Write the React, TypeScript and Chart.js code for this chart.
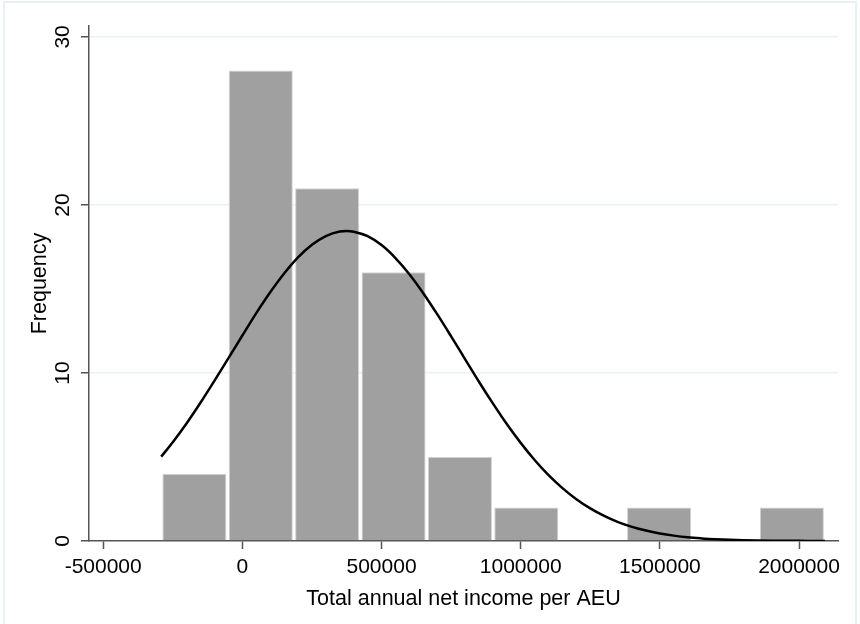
import React, { useEffect, useRef } from "react";
import { Chart, registerables } from "chart.js";

Chart.register(...registerables);

// Histogram bins (bin centres) and frequencies
const binCenters = [-172350, 66150, 304650, 543150, 781650, 1020150, 1258650, 1497150, 1735650, 1974150];
const frequencies = [4, 28, 21, 16, 5, 2, 0, 2, 0, 2];

// Normal density overlay
const curveX = [
  -291600, -250000, -200000, -150000, -100000, -50000, 0, 50000, 100000, 150000,
  200000, 250000, 300000, 350000, 374000, 400000, 450000, 500000, 550000, 600000,
  650000, 700000, 750000, 800000, 850000, 900000, 950000, 1000000, 1050000, 1100000,
  1150000, 1200000, 1250000, 1300000, 1350000, 1400000, 1450000, 1500000, 1550000, 1600000,
  1650000, 1700000, 1750000, 1800000, 1850000, 1900000, 1950000, 2000000, 2093400,
];
const curveY = [
  5.02, 5.88, 7.01, 8.24, 9.54, 10.88, 12.23, 13.56, 14.8, 15.92,
  16.88, 17.63, 18.15, 18.42, 18.45, 18.41, 18.14, 17.61, 16.84, 15.88,
  14.75, 13.5, 12.18, 10.83, 9.48, 8.19, 6.96, 5.84, 4.82, 3.92,
  3.15, 2.49, 1.94, 1.49, 1.12, 0.84, 0.62, 0.45, 0.32, 0.22,
  0.155, 0.106, 0.071, 0.047, 0.031, 0.02, 0.013, 0.008, 0.003,
];

// Tick labels
const xTicks = [-500000, 0, 500000, 1000000, 1500000, 2000000];
const yTicks = [0, 10, 20, 30];

const xTitle = "Total annual net income per AEU";
const yTitle = "Frequency";

const FONT = "'Liberation Sans', Arial, sans-serif";
const AXIS = "#555555";
const GRID = "#eaf1f3";

export default function App() {
  const ref = useRef<HTMLCanvasElement | null>(null);

  useEffect(() => {
    if (!ref.current) return;
    const chart = new Chart(ref.current, {
      type: "bar",
      data: {
        datasets: [
          {
            type: "line",
            data: curveX.map((x, i) => ({ x, y: curveY[i] })),
            borderColor: "#000000",
            borderWidth: 2.5,
            pointRadius: 0,
            cubicInterpolationMode: "monotone",
            fill: false,
            order: 0,
          } as any,
          {
            type: "bar",
            data: binCenters.map((x, i) => ({ x, y: frequencies[i] })),
            backgroundColor: "#a0a0a0",
            borderColor: "#d2d2d2",
            borderWidth: 1,
            barPercentage: 0.965,
            categoryPercentage: 1,
            order: 1,
          } as any,
        ],
      },
      options: {
        animation: false,
        responsive: false,
        maintainAspectRatio: false,
        layout: { padding: { left: 0, right: 22, top: 26, bottom: 0 } },
        plugins: { legend: { display: false }, tooltip: { enabled: false } },
        scales: {
          x: {
            type: "linear",
            offset: false,
            min: -551000,
            max: 2140000,
            afterBuildTicks: (s: any) => {
              s.ticks = xTicks.map((v) => ({ value: v }));
            },
            afterFit: (s: any) => {
              s.height = 83;
            },
            border: { display: true, color: AXIS, width: 1.5 },
            grid: {
              offset: false,
              drawOnChartArea: false,
              drawTicks: true,
              tickLength: 8,
              tickColor: AXIS,
              tickWidth: 1.5,
            },
            ticks: {
              maxRotation: 0,
              minRotation: 0,
              autoSkip: false,
              padding: 6,
              color: "#000000",
              font: { family: FONT, size: 21 },
              callback: (v: any) => String(v),
            },
            title: {
              display: true,
              text: xTitle,
              color: "#000000",
              font: { family: FONT, size: 21.5 },
              padding: { top: 0, bottom: 12 },
            },
          },
          y: {
            type: "linear",
            min: 0,
            max: 30.65,
            afterBuildTicks: (s: any) => {
              s.ticks = yTicks.map((v) => ({ value: v }));
            },
            afterFit: (s: any) => {
              s.width = 89;
            },
            border: { display: true, color: AXIS, width: 1.5 },
            grid: {
              color: (ctx: any) => (ctx.tick && ctx.tick.value === 0 ? "rgba(0,0,0,0)" : GRID),
              lineWidth: 1.5,
              drawTicks: true,
              tickLength: 8,
              tickColor: AXIS,
              tickWidth: 1.5,
            },
            ticks: {
              minRotation: 90,
              maxRotation: 90,
              crossAlign: "center",
              autoSkip: false,
              padding: 6,
              color: "#000000",
              font: { family: FONT, size: 21 },
              callback: (v: any) => String(v),
            },
            title: {
              display: true,
              text: yTitle,
              color: "#000000",
              font: { family: FONT, size: 21.5 },
              padding: { top: 27, bottom: 0 },
            },
          },
        },
      } as any,
    });
    return () => chart.destroy();
  }, []);

  return (
    <div style={{ position: "absolute", left: 0, top: 0, width: 860, height: 624, background: "#ffffff", overflow: "hidden" }}>
      <div
        style={{
          position: "absolute",
          left: 3,
          top: 1,
          width: 854,
          height: 640,
          border: "2px solid #e8f0f4",
          boxSizing: "border-box",
        }}
      />
      <canvas ref={ref} width={860} height={624} style={{ position: "absolute", left: 0, top: 0, width: 860, height: 624 }} />
    </div>
  );
}
